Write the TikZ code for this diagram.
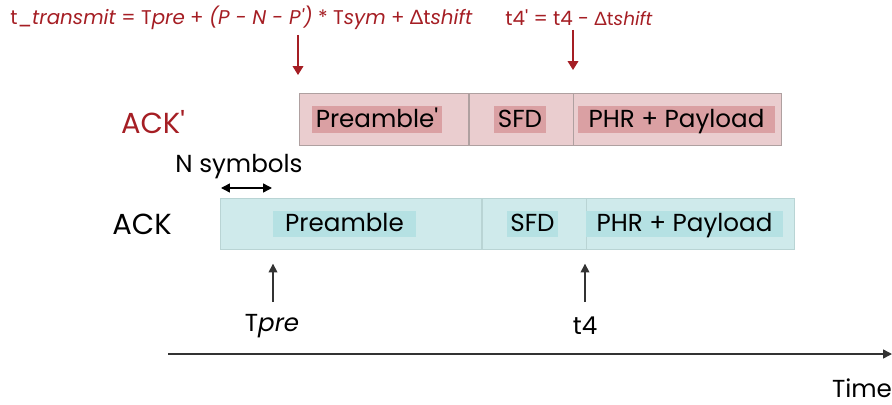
\documentclass[tikz,border=0pt]{standalone}
\usepackage{fontspec}
\setmainfont{Poppins}
\newfontfamily\grk{Lato}
\usetikzlibrary{positioning,arrows.meta}

\definecolor{ackred}{RGB}{165,30,36}
\definecolor{pinkfill}{RGB}{234,205,207}
\definecolor{pinkmark}{RGB}{218,160,163}
\definecolor{pinkline}{RGB}{175,160,160}
\definecolor{tealfill}{RGB}{207,234,235}
\definecolor{tealmark}{RGB}{181,225,227}
\definecolor{tealline}{RGB}{185,212,212}

\tikzset{
  segP/.style={draw=pinkline, fill=pinkfill, minimum height=1.04cm, inner sep=0pt},
  seg/.style={draw=tealline, fill=tealfill, minimum height=1.02cm, inner sep=0pt},
  hlmarkP/.style={fill=pinkmark, minimum height=0.54cm, inner sep=0pt, text height=0.98em, text depth=0.1em, font=\fontsize{14}{17}\selectfont},
  hlmark/.style={fill=tealmark, minimum height=0.52cm, inner sep=0pt, text height=0.98em, text depth=0.1em, font=\fontsize{14}{17}\selectfont},
  lbl/.style={font=\fontsize{14}{17}\selectfont},
  big/.style={font=\fontsize{16.5}{19}\selectfont},
  eq/.style={text=ackred, font=\fontsize{11.3}{14}\selectfont, inner sep=0pt},
  redarrow/.style={draw=ackred, line width=0.8pt, -{Triangle[length=5pt,width=6pt]}},
  blkarrow/.style={draw=black!80, line width=0.8pt, -{Triangle[length=5pt,width=5pt]}}
}

\begin{document}
\begin{tikzpicture}[x=0.02cm,y=-0.02cm]
\useasboundingbox (0,0) rectangle (892,405);

% formulas
\node[eq, anchor=west] (ttx) at (10,18)
  {t\_\textit{transmit} = T\textit{pre} + \textit{(P - N - P\textquotesingle)} * T\textit{sym} + {\grk Δ}t\textit{shift}};
\node[eq, anchor=west] (t4p) at (505,18)
  {t4\textquotesingle\ = t4 - {\fontsize{10.5}{12}\selectfont{\grk Δ}t\textit{shift}}};

% ACK' frame
\node[segP, minimum width=3.38cm, anchor=north west] (preP) at (299,93) {};
\node[segP, minimum width=2.08cm, right=0pt of preP] (sfdP) {};
\node[segP, minimum width=4.16cm, right=0pt of sfdP] (payP) {};
\node[hlmarkP, minimum width=2.6cm] (preTxtP) at (377,119.5) {Preamble\textquotesingle};
\node[hlmarkP, minimum width=1.04cm] (sfdTxtP) at (520,119.5) {SFD};
\node[hlmarkP, minimum width=3.94cm] (payTxtP) at (676.5,119.5) {PHR + Payload};
\node[big, text=ackred] (ackP) at (153,122) {ACK\textquotesingle};

% ACK frame
\node[seg, minimum width=5.22cm, anchor=north west] (pre) at (220,198) {};
\node[seg, minimum width=2.08cm, right=0pt of pre] (sfd) {};
\node[seg, minimum width=4.16cm, right=0pt of sfd] (pay) {};
\node[hlmark, minimum width=2.86cm] (preTxt) at (344.5,224) {Preamble};
\node[hlmark, minimum width=1.02cm] (sfdTxt) at (532.5,224) {SFD};
\node[hlmark, minimum width=3.94cm] (payTxt) at (684.5,224) {PHR + Payload};
\node[big] (ack) at (142,224) {ACK};

% N symbols
\node[lbl] (nsym) at (239,167) {N symbols};
\coordinate (nL) at (221,188);
\coordinate (nR) at (272,188);
\draw[line width=0.8pt, {Triangle[length=5pt,width=5pt]}-{Triangle[length=5pt,width=5pt]}] (nL) -- (nR);

% red arrows
\coordinate (txArr) at (298,35);
\coordinate (t4Arr) at (573,30);
\draw[redarrow, shorten >=0.36cm] (txArr) -- (txArr |- preP.north);
\draw[redarrow, shorten >=0.46cm] (t4Arr) -- (t4Arr |- payP.north);

% time marks
\node[lbl] (tpre) at (272,326) {T\textit{pre}};
\node[lbl] (t4) at (585,326) {t4};
\coordinate (tpreArr) at (273,302);
\coordinate (t4Arr2) at (585,302);
\draw[blkarrow, shorten >=0.28cm] (tpreArr) -- (tpreArr |- pre.south);
\draw[blkarrow, shorten >=0.28cm] (t4Arr2) -- (t4Arr2 |- pay.south);

% time axis
\coordinate (axL) at (168,354);
\coordinate (axR) at (892,354);
\draw[blkarrow] (axL) -- (axR);
\node[lbl] (time) at (862,388) {Time};
\end{tikzpicture}
\end{document}
